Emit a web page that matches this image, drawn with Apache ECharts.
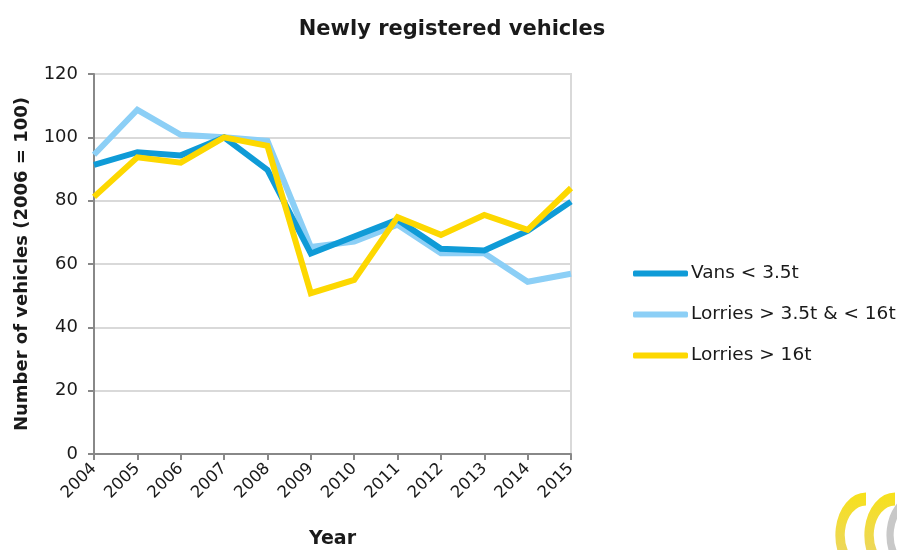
<!DOCTYPE html>
<html><head><meta charset="utf-8">
<script src="https://cdn.jsdelivr.net/npm/echarts@6/dist/echarts.min.js"></script>
<style>html,body{margin:0;padding:0;background:#fff}#c{width:897px;height:550px}</style>
</head><body><div id="c"></div>
<script>
const years = ['2004','2005','2006','2007','2008','2009','2010','2011','2012','2013','2014','2015'];
const vans = [91.3, 95.3, 94.3, 100, 89.7, 63.3, 68.7, 74, 64.8, 64.3, 70.5, 79.7];
const lorriesMid = [94.5, 108.7, 100.8, 100, 98.9, 65.4, 67.1, 72.4, 63.4, 63.4, 54.4, 56.9];
const lorriesHeavy = [81.2, 93.7, 92, 100, 97.3, 50.8, 55, 74.8, 69.2, 75.5, 70.8, 84];
const yTicks = [0, 20, 40, 60, 80, 100, 120];

const FONT = 'DejaVu Sans';
const chart = echarts.init(document.getElementById('c'), null, {renderer: 'canvas'});
const mk = (name, data, color) => ({
  name, type: 'line', data, symbol: 'none', z: 3,
  lineStyle: {color, width: 6, join: 'miter'},
  itemStyle: {color}
});
const yel = new echarts.graphic.LinearGradient(0, 0, 0, 1, [
  {offset: 0, color: '#f7e11a'}, {offset: 1, color: '#e8d27a'}]);
chart.setOption({
  animation: false,
  title: {
    text: 'Newly registered vehicles', left: 447, top: 14, textAlign: 'center',
    textStyle: {fontFamily: FONT, fontWeight: 'bold', fontSize: 21, color: '#1a1a1a'}
  },
  grid: {left: 94, right: 326, top: 74, bottom: 96, show: true, borderColor: '#d9d9d9', borderWidth: 2,
    containLabel: false, outerBoundsMode: 'none'},
  legend: {
    orient: 'vertical', left: 628, top: 259, itemGap: 22, itemWidth: 55, itemHeight: 6,
    icon: 'roundRect',
    textStyle: {fontFamily: FONT, fontSize: 18.5, color: '#1a1a1a', padding: [0, 0, 0, -2]},
    data: ['Vans < 3.5t', 'Lorries > 3.5t & < 16t', 'Lorries > 16t']
  },
  xAxis: {
    type: 'category', data: years, boundaryGap: false,
    name: 'Year', nameLocation: 'middle', nameGap: 76,
    nameTextStyle: {fontFamily: FONT, fontWeight: 'bold', fontSize: 19, color: '#1a1a1a'},
    axisLine: {lineStyle: {color: '#888', width: 2}},
    axisTick: {show: true, length: 6, lineStyle: {color: '#888', width: 2}},
    axisLabel: {rotate: 45, fontFamily: FONT, fontSize: 16.5, color: '#1a1a1a', margin: 12},
    splitLine: {show: false}
  },
  yAxis: {
    type: 'value', min: 0, max: 120, interval: 20,
    name: 'Number of vehicles (2006 = 100)', nameLocation: 'middle', nameGap: 63,
    nameTextStyle: {fontFamily: FONT, fontWeight: 'bold', fontSize: 18, color: '#1a1a1a'},
    axisLine: {show: true, lineStyle: {color: '#888', width: 2}},
    axisTick: {show: true, length: 6, lineStyle: {color: '#888', width: 2}},
    axisLabel: {fontFamily: FONT, fontSize: 18, color: '#1a1a1a', margin: 16,
      formatter: v => yTicks.includes(v) ? String(v) : ''},
    splitLine: {lineStyle: {color: '#d9d9d9', width: 2}}
  },
  graphic: [
    {type: 'arc', shape: {cx: 916, cy: 535, r: 36, startAngle: Math.PI * 0.55, endAngle: Math.PI * 1.45},
     style: {stroke: '#c8c8c8', lineWidth: 10, fill: null}, scaleX: 0.72, originX: 916, originY: 535},
    {type: 'arc', shape: {cx: 895, cy: 535, r: 36, startAngle: Math.PI * 0.55, endAngle: Math.PI * 1.5},
     style: {stroke: yel, lineWidth: 13, fill: null}, scaleX: 0.72, originX: 895, originY: 535},
    {type: 'arc', shape: {cx: 866, cy: 535, r: 36, startAngle: Math.PI * 0.55, endAngle: Math.PI * 1.5},
     style: {stroke: yel, lineWidth: 13, fill: null}, scaleX: 0.72, originX: 866, originY: 535}
  ],
  series: [
    mk('Lorries > 3.5t & < 16t', lorriesMid, '#8ccff6'),
    mk('Vans < 3.5t', vans, '#0f9bd7'),
    mk('Lorries > 16t', lorriesHeavy, '#fdd800')
  ]
});
</script></body></html>
